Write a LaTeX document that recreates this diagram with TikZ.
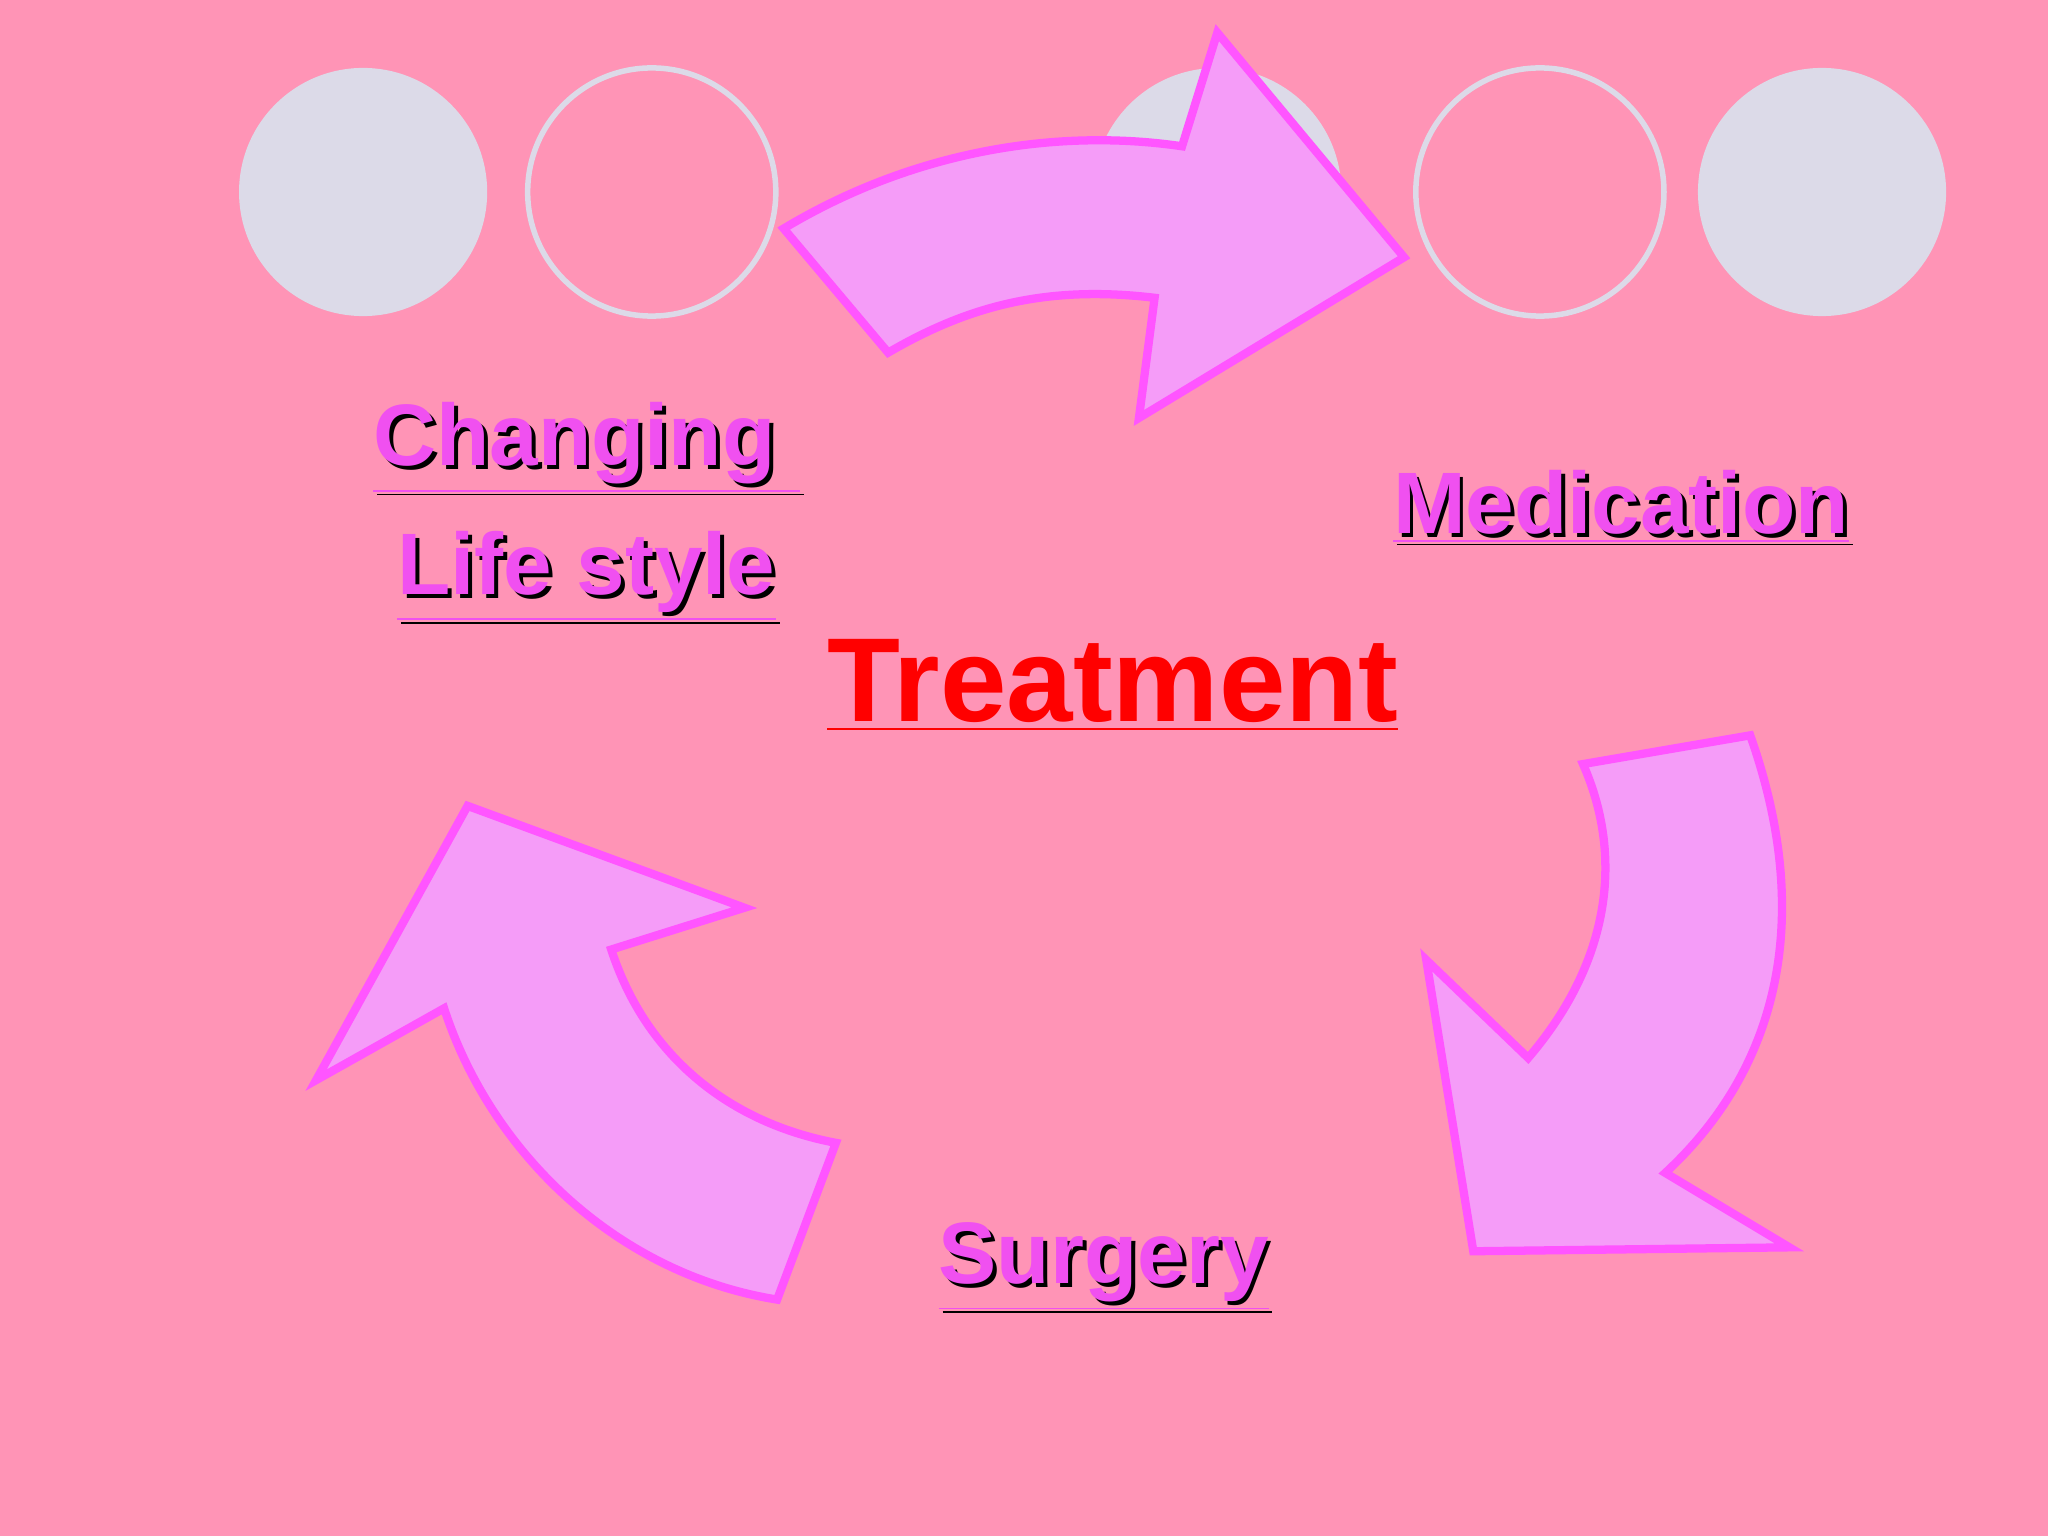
\documentclass[tikz,border=0pt]{standalone}
\usepackage{fontspec}
\setmainfont{Liberation Sans}
\definecolor{bg}{HTML}{FF94B6}
\definecolor{circ}{HTML}{DCDAE8}
\definecolor{afill}{HTML}{F59CF8}
\definecolor{astroke}{HTML}{FF55FF}
\definecolor{mag}{HTML}{F050F0}
\newcommand{\shtxt}[1]{\underline{#1}}
\begin{document}
\begin{tikzpicture}[x=0.01cm,y=-0.01cm,
  arr/.style={fill=afill,draw=astroke,line width=1.8pt,line join=miter},
  fc/.style={fill=circ,draw=none},
  oc/.style={draw=circ,line width=1.2pt},
  lab/.style={font=\bfseries\fontsize{19}{26}\selectfont,align=center,inner sep=0pt}]
\fill[bg] (0,0) rectangle (1568,1176);
\useasboundingbox (0,0) rectangle (1568,1176);
\fill[fc] (278,147) circle (95);
\draw[oc] (499,147) circle (95);
\fill[fc] (932,147) circle (95);
\draw[oc] (1179,147) circle (95);
\fill[fc] (1395,147) circle (95);
% top arrow
\draw[arr] (600,175) .. controls (700,115) and (810,98) .. (905,112) -- (932,25) -- (1075,197) -- (872,320) -- (884,228)
  .. controls (800,218) and (740,235) .. (680,270) -- cycle;
% right arrow
\draw[arr] (1212,585) -- (1340,563) .. controls (1385,690) and (1370,810) .. (1275,898) -- (1370,955) -- (1128,958) -- (1092,735) -- (1170,810)
  .. controls (1230,740) and (1245,660) .. (1212,585) -- cycle;
% left arrow
\draw[arr] (595,995) .. controls (470,975) and (375,880) .. (340,772) -- (242,827) -- (358,617) -- (570,695) -- (468,727)
  .. controls (495,810) and (560,860) .. (640,875) -- cycle;
% labels with shadow
\foreach \dx/\c in {3/black,0/mag}{
  \node[lab,text=\c] (cl\dx) at (449+\dx,392+\dx) {\shtxt{Changing }\\[2pt]\shtxt{Life style}};
  \node[lab,text=\c] (me\dx) at (1241+\dx,388+\dx) {\shtxt{Medication}};
  \node[lab,text=\c] (su\dx) at (845+\dx,970+\dx) {\shtxt{Surgery}};
}
\node[font=\bfseries\fontsize{26}{30}\selectfont,text=red,inner sep=0pt] (tr) at (852,525) {\underline{Treatment}};
\end{tikzpicture}
\end{document}
